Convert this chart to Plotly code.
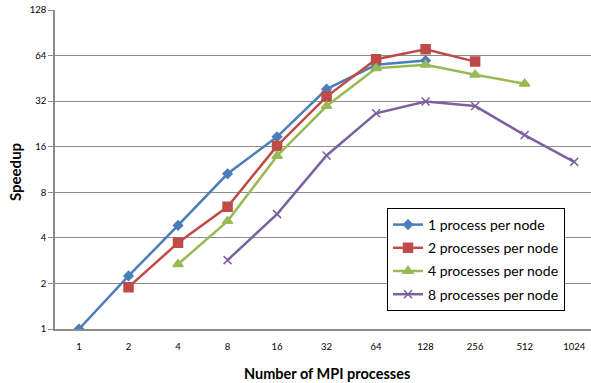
import plotly.graph_objects as go
import math

x_labels = ["1", "2", "4", "8", "16", "32", "64", "128", "256", "512", "1024"]
procs = [1, 2, 4, 8, 16, 32, 64, 128, 256, 512, 1024]

s1_x = [1, 2, 4, 8, 16, 32, 64, 128]
s1_y = [1.0, 2.24, 4.83, 10.6, 18.6, 38.4, 55.6, 59.3]
s2_x = [2, 4, 8, 16, 32, 64, 128, 256]
s2_y = [1.89, 3.71, 6.41, 16.2, 34.3, 60.6, 70.5, 58.4]
s3_x = [4, 8, 16, 32, 64, 128, 256, 512]
s3_y = [2.68, 5.16, 13.9, 29.7, 52.8, 55.6, 47.8, 41.7]
s4_x = [8, 16, 32, 64, 128, 256, 512, 1024]
s4_y = [2.85, 5.74, 14.0, 26.6, 31.8, 29.7, 19.1, 12.7]

names = ["1 process per node", "2 processes per node", "4 processes per node", "8 processes per node"]
colors = ["#4A7EBB", "#BE4B48", "#98B954", "#7D60A0"]
symbols = ["diamond", "square", "triangle-up", "x-thin-open"]
sizes = [7, 9, 9, 8]
y_ticks = [1, 2, 4, 8, 16, 32, 64, 128]

W, H = 591, 383
l, r, t, b = 55, 0, 10, 54
pw, ph = W - l - r, H - t - b

fig = go.Figure()
for i, (xs, ys, nm, c, sym, sz) in enumerate(zip([s1_x, s2_x, s3_x, s4_x], [s1_y, s2_y, s3_y, s4_y],
                                                 names, colors, symbols, sizes)):
    fig.add_trace(go.Scatter(
        x=[math.log2(v) for v in xs], y=ys, name=nm, mode="lines+markers",
        legendgroup=f"g{i}",
        line=dict(color=c, width=2.5),
        marker=dict(symbol=sym, size=sz, color=c, line=dict(color=c, width=1.5)),
    ))

fig.update_layout(
    width=W, height=H,
    margin=dict(l=l, r=r, t=t, b=b),
    paper_bgcolor="white", plot_bgcolor="white",
    font=dict(family="Lato, Open Sans, sans-serif", color="#000000"),
    showlegend=True,
    legend=dict(x=(387 - l) / pw, y=(H - b - 208) / ph, xanchor="left", yanchor="top",
                bgcolor="white", bordercolor="#000000", borderwidth=1,
                font=dict(size=14, family="Lato, sans-serif"),
                tracegroupgap=2, itemwidth=30),
    xaxis=dict(range=[-0.485, 10.34], tickvals=[math.log2(v) for v in procs],
               ticktext=x_labels, showgrid=False, zeroline=False,
               showline=True, linecolor="#8C8C8C", linewidth=1.5,
               ticks="", tickfont=dict(size=9.5, family="Lato, sans-serif"),
               ticklabelstandoff=8),
    yaxis=dict(type="log", range=[0, math.log10(128)], tickvals=y_ticks,
               ticktext=[str(v) for v in y_ticks], showgrid=True,
               gridcolor="#8C8C8C", gridwidth=1.2, zeroline=False,
               showline=True, linecolor="#8C8C8C", linewidth=1.5,
               ticks="outside", ticklen=5, tickcolor="#8C8C8C",
               tickfont=dict(size=9.5, family="Lato, sans-serif")),
    annotations=[
        dict(text="<b>Speedup</b>", x=(15 - l) / pw, y=(H - b - 172) / ph,
             xref="paper", yref="paper", xanchor="center", yanchor="middle",
             showarrow=False, textangle=-90, font=dict(size=15)),
        dict(text="<b>Number of MPI processes</b>", x=(327 - l) / pw, y=(H - b - 373) / ph,
             xref="paper", yref="paper", xanchor="center", yanchor="middle",
             showarrow=False, font=dict(size=14.5)),
    ],
)

fig.write_html("out.html", config={"displayModeBar": False},
               post_script="document.body.style.margin='0';document.body.style.overflow='hidden';")
